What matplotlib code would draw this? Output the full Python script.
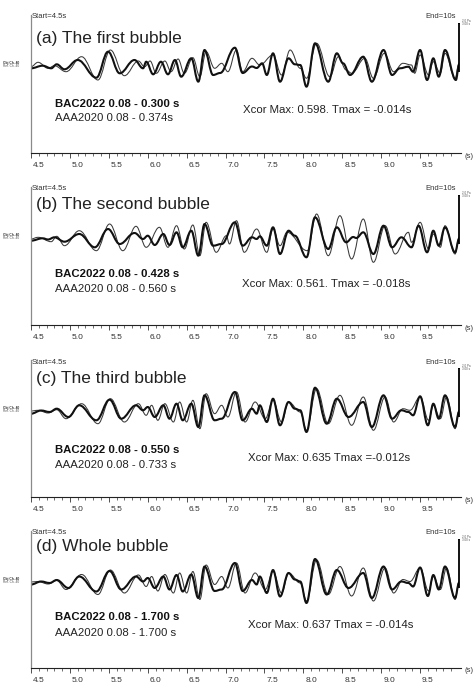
import matplotlib.pyplot as plt
from matplotlib.path import Path
from matplotlib.patches import PathPatch
import matplotlib.transforms as mtransforms
import numpy as np

plt.rcParams["font.family"] = ["Liberation Sans", "DejaVu Sans"]

W, H = 473, 688

titles = ["(a) The first bubble", "(b) The second bubble",
          "(c) The third bubble", "(d) Whole bubble"]
bac_labels = ["BAC2022 0.08 - 0.300 s", "BAC2022 0.08 - 0.428 s",
              "BAC2022 0.08 - 0.550 s", "BAC2022 0.08 - 1.700 s"]
aaa_labels = ["AAA2020 0.08 - 0.374s", "AAA2020 0.08 - 0.560 s",
              "AAA2020 0.08 - 0.733 s", "AAA2020 0.08 - 1.700 s"]
xcor_labels = ["Xcor Max: 0.598. Tmax = -0.014s", "Xcor Max: 0.561. Tmax = -0.018s",
               "Xcor Max: 0.635 Tmax =-0.012s", "Xcor Max: 0.637 Tmax = -0.014s"]
tick_major = [4.5, 5.0, 5.5, 6.0, 6.5, 7.0, 7.5, 8.0, 8.5, 9.0, 9.5]

# waveform turning points (time s, amplitude)
bac_a = [(4.50, -1.3), (4.65, 1.3), (4.76, -1.3), (4.83, 2.7), (4.93, -2.3), (5.10, 7),
         (5.34, -10.7), (5.49, 15.3), (5.64, -6.3), (5.83, 7), (5.94, -1.3), (5.98, 5.3),
         (6.07, -7.3), (6.17, 5.3), (6.26, -7.3), (6.35, 7), (6.43, -9.7), (6.56, 8.7),
         (6.65, -14.7), (6.73, 17), (6.84, -8), (6.93, -6), (7.12, 19.3), (7.22, -6),
         (7.34, 0.5), (7.40, -1), (7.47, 3.7), (7.53, -8), (7.61, 13.7), (7.70, -14.7),
         (7.81, 8.7), (7.89, 2.7), (7.96, 2), (8.04, -19.7), (8.15, 23.7), (8.32, -14.7),
         (8.43, 13.7), (8.51, 3.7), (8.60, -8), (8.77, 10.3), (8.88, -14.7), (9.03, 17),
         (9.14, -8), (9.24, -1.3), (9.35, 0.3), (9.41, -4.7), (9.50, 17), (9.59, -13),
         (9.67, 8.7), (9.74, -9.7), (9.82, 17), (9.96, -13), (10.0, 2)]
aaa_a = [(4.50, 0.3), (4.59, 4.7), (4.72, -1.3), (4.80, 1.3), (4.95, -4.7), (5.15, 10.3),
         (5.36, -13), (5.52, 17), (5.70, -8.7), (5.88, 6), (5.96, 0.3), (6.03, 6),
         (6.11, -6.3), (6.22, 6), (6.30, -4.7), (6.39, 8), (6.47, -6.3), (6.58, 9.3),
         (6.67, -9.7), (6.75, 15.3), (6.86, -1.3), (6.95, 3.7), (7.03, -4.7), (7.14, 17),
         (7.22, -4.7), (7.34, 8.7), (7.44, 2), (7.61, 12), (7.72, -8), (7.83, 17),
         (7.96, -1.3), (8.04, -11.3), (8.17, 23.7), (8.34, -9.7), (8.45, 10.3), (8.55, -3),
         (8.62, -6.3), (8.79, 8.7), (8.90, -11.3), (9.04, 13.7), (9.16, -4.7), (9.28, 3.7),
         (9.39, 2), (9.43, -6.3), (9.50, 12), (9.61, -8), (9.67, 5.3), (9.76, -6.3),
         (9.82, 13.7), (9.95, -11.3), (10.0, 3.7)]

bac_b = [(4.50, -1.7), (4.65, 0.7), (4.72, -0.5), (4.80, 1.7), (4.93, -2.7), (5.12, 5),
         (5.32, -8.3), (5.49, 10), (5.64, -5), (5.83, 6), (5.94, 0), (6.00, 3.3),
         (6.09, -6), (6.20, 5), (6.28, -6), (6.37, 6.7), (6.45, -8.3), (6.56, 8.3),
         (6.65, -16.7), (6.73, 15), (6.84, -6.7), (6.95, -5), (7.12, 16.7), (7.22, -6.7),
         (7.34, 1.7), (7.40, 0), (7.44, 2.7), (7.53, -6.7), (7.61, 11.7), (7.70, -15),
         (7.81, 8.3), (7.89, 3.3), (8.04, -18.3), (8.15, 21.7), (8.32, -10), (8.43, 11.7),
         (8.55, -3.3), (8.64, 2), (8.68, 1), (8.77, 6.7), (8.90, -15), (9.03, 13.3),
         (9.14, -8.3), (9.26, 1.7), (9.39, -8.3), (9.48, 13.3), (9.59, -13.3), (9.67, 8.3),
         (9.74, -6.7), (9.82, 11.7), (9.95, -13.3), (10.0, 0)]
aaa_b = [(4.50, 0), (4.59, 1.7), (4.76, -2.7), (4.83, 2.7), (4.93, -6.7), (5.12, 8.3),
         (5.34, -11.7), (5.51, 15), (5.68, -11.7), (5.85, 12.7), (5.98, -8.3), (6.15, 11.7),
         (6.26, -8.3), (6.37, 13.3), (6.47, -10), (6.58, 14), (6.67, -16.7), (6.75, 16.7),
         (6.88, -13.3), (7.01, 3.3), (7.05, -5), (7.14, 18.3), (7.24, -13.3), (7.40, 10),
         (7.53, -13.3), (7.61, 10), (7.70, -6.7), (7.79, 6.7), (8.05, -11.7), (8.17, 25),
         (8.32, -16.7), (8.47, 23.3), (8.62, -20), (8.77, 20), (8.90, -23.3), (9.05, 13.3),
         (9.18, -15), (9.35, 6.7), (9.39, -3.3), (9.50, 16.7), (9.61, -10), (9.67, 5),
         (9.76, -8.3), (9.82, 13.3), (9.95, -15), (10.0, 1.7)]

bac_c = [(4.50, -1.7), (4.63, 1.5), (4.74, 0), (4.83, 3.3), (4.98, -5), (5.12, 6.7),
         (5.34, -8.3), (5.51, 12.3), (5.66, -6.7), (5.85, 6.7), (5.94, 1.7), (6.00, 5),
         (6.09, -5), (6.20, 6.7), (6.28, -6.7), (6.37, 8.3), (6.45, -8.3), (6.56, 8.3),
         (6.65, -15), (6.73, 16.7), (6.86, -8.3), (6.95, -6.7), (7.12, 20), (7.22, -8.3),
         (7.34, 3.3), (7.40, -1.7), (7.44, 6.7), (7.53, -10), (7.61, 13.3), (7.70, -13.3),
         (7.81, 10), (7.89, 3.3), (7.96, 1.7), (8.04, -20), (8.15, 24.3), (8.30, -11.7),
         (8.43, 13.3), (8.58, -5), (8.77, 10), (8.88, -15), (9.03, 16.7), (9.14, -6.7),
         (9.26, 1.7), (9.35, 0), (9.41, -3.3), (9.50, 15.7), (9.60, -13.3), (9.67, 8.3),
         (9.74, -6.7), (9.82, 16.7), (9.95, -15), (10.0, 0)]
aaa_c = [(4.50, 1), (4.59, 1.7), (4.72, -1), (4.83, 2.3), (4.95, -6.7), (5.15, 8.3),
         (5.36, -11.7), (5.52, 13.3), (5.70, -10), (5.88, 8.3), (5.98, -3.3), (6.05, 6.7),
         (6.13, -8.3), (6.22, 8.3), (6.33, -10), (6.41, 10), (6.50, -10), (6.58, 11.7),
         (6.67, -16.7), (6.75, 18.3), (6.86, -1.7), (6.95, 6.7), (7.03, -5), (7.14, 20),
         (7.25, -10), (7.38, 10), (7.51, -6.7), (7.61, 11.7), (7.72, -10), (7.81, 10),
         (7.96, 0), (8.04, -18.3), (8.17, 23.3), (8.32, -11.7), (8.47, 16.7), (8.62, -13.3),
         (8.77, 15), (8.90, -18.3), (9.05, 15), (9.16, -10), (9.28, 3.3), (9.37, 1.7),
         (9.50, 15), (9.61, -8.3), (9.67, 6.7), (9.76, -6.7), (9.84, 15), (9.95, -16.7),
         (10.0, 1.7)]

bac_d = [(4.50, -1.5), (4.63, 1.5), (4.74, 0), (4.83, 3), (4.98, -5), (5.12, 6.5),
         (5.34, -8.5), (5.51, 12), (5.66, -6.5), (5.85, 6.5), (5.94, 1.5), (6.00, 5),
         (6.09, -5), (6.20, 6.5), (6.28, -6.5), (6.37, 8), (6.45, -8.5), (6.56, 8.5),
         (6.65, -15), (6.73, 16.5), (6.86, -8), (6.95, -6.5), (7.12, 20), (7.22, -8),
         (7.34, 3), (7.40, -1.5), (7.44, 6.5), (7.53, -10), (7.61, 13), (7.70, -13.5),
         (7.81, 10), (7.89, 3.5), (7.96, 1.5), (8.04, -20), (8.15, 24), (8.30, -11.5),
         (8.43, 13), (8.58, -5), (8.77, 10), (8.88, -15), (9.03, 16.5), (9.14, -6.5),
         (9.26, 1.5), (9.35, 0), (9.41, -3.5), (9.50, 15.5), (9.60, -13), (9.67, 8),
         (9.74, -6.5), (9.82, 16.5), (9.95, -15), (10.0, 0)]
aaa_d = [(4.50, 1), (4.59, 1.5), (4.72, -1), (4.83, 2.5), (4.95, -6.5), (5.15, 8.5),
         (5.36, -11.5), (5.52, 13), (5.70, -10), (5.88, 8), (5.98, -3.5), (6.05, 6.5),
         (6.13, -8), (6.22, 8.5), (6.33, -10), (6.41, 10), (6.50, -10), (6.58, 11.5),
         (6.67, -16.5), (6.75, 18), (6.86, -1.5), (6.95, 6.5), (7.03, -5), (7.14, 20),
         (7.25, -10), (7.38, 10), (7.51, -6.5), (7.61, 11.5), (7.72, -10), (7.81, 10),
         (7.96, 0), (8.04, -18), (8.17, 23), (8.32, -11.5), (8.47, 16.5), (8.62, -13),
         (8.77, 15), (8.90, -18), (9.05, 15), (9.16, -10), (9.28, 3.5), (9.37, 1.5),
         (9.50, 15), (9.61, -8), (9.67, 6.5), (9.76, -6.5), (9.84, 15), (9.95, -16.5),
         (10.0, 1.5)]

bac_traces = [bac_a, bac_b, bac_c, bac_d]
aaa_traces = [aaa_a, aaa_b, aaa_c, aaa_d]

# layout (pixel rows of each panel): top of frame, x axis line
panel_top = [15, 187, 360, 531]
panel_axis = [153, 325, 497, 668]
title_y = [39, 204, 378, 546]
bac_y = [104, 274, 450, 617]
aaa_y = [118, 289, 465, 633]
xcor_xy = [(243, 110), (242, 284), (248, 458), (248, 625)]


def wave_path(pts, k=0.38):
    # smooth curve through turning points, flat at every peak and trough
    verts = [pts[0]]
    codes = [Path.MOVETO]
    for (t0, a0), (t1, a1) in zip(pts[:-1], pts[1:]):
        d = (t1 - t0) * k
        verts += [(t0 + d, a0), (t1 - d, a1), (t1, a1)]
        codes += [Path.CURVE4] * 3
    return Path(verts, codes)


def ftext(x, y, s, **kw):
    fig.text(x / W, 1 - y / H, s, **kw)


fig = plt.figure(figsize=(W / 100, H / 100), dpi=100)

for i in range(4):
    top, bot = panel_top[i], panel_axis[i]
    ax = fig.add_axes([31 / W, 1 - bot / H, 428 / W, (bot - top) / H])
    base = top + 52
    ax.set_xlim(4.5, 10.0)
    ax.set_ylim(-(bot - base), base - top)

    ax.add_patch(PathPatch(wave_path(aaa_traces[i]), fill=False, lw=0.75,
                           ec="#3a3a3a", capstyle="round", joinstyle="round"))
    ax.add_patch(PathPatch(wave_path(bac_traces[i]), fill=False, lw=1.5,
                           ec="#111111", capstyle="round", joinstyle="round"))

    for s in ["top", "right"]:
        ax.spines[s].set_visible(False)
    ax.spines["left"].set_color("#8a8a8a")
    ax.spines["left"].set_linewidth(0.9)
    ax.spines["bottom"].set_color("#222222")
    ax.spines["bottom"].set_linewidth(0.8)
    ax.spines["bottom"].set_bounds(4.5, 10.02)
    ax.set_yticks([])
    ax.set_xticks(tick_major)
    ax.set_xticklabels(["%.1f" % v for v in tick_major])
    ax.set_xticks(np.arange(4.5, 10.0, 0.1), minor=True)
    ax.tick_params(axis="x", which="major", length=3.5, width=0.6, color="#333333",
                   labelsize=6, labelcolor="#333333", pad=3)
    ax.tick_params(axis="x", which="minor", length=2, width=0.5, color="#333333")
    off = mtransforms.ScaledTranslation(2 / 100, 0, fig.dpi_scale_trans)
    for lab in ax.get_xticklabels():
        lab.set_horizontalalignment("left")
        lab.set_transform(lab.get_transform() + off)

    # scale bar on the right edge
    ax.plot([10.0, 10.0], [base - top - 8, -5], color="black", lw=1.3,
            clip_on=False, solid_capstyle="butt")
    ax.plot([9.985, 10.0], [base - top - 8, base - top - 8], color="black", lw=0.6,
            clip_on=False)

    ftext(32, top + 2, "Start=4.5s", fontsize=5.5, color="#333333", va="center")
    ftext(456, top + 2, "End=10s", fontsize=5.5, color="#333333", va="center", ha="right")
    ftext(462, top + 6, "2.0 Pa", fontsize=2.2, color="#555555", va="center")
    ftext(462, top + 9, "3.00 s", fontsize=2.2, color="#555555", va="center")
    ftext(464, bot + 3, "(s)", fontsize=5.5, color="#333333", va="center")
    ftext(3, base - 4, "Obj Ch. 40", fontsize=2.3, color="#333333", va="center",
          fontweight="bold")
    ftext(3, base - 1, "Ref. Ch. 40", fontsize=2.3, color="#555555", va="center")

    ftext(36, title_y[i], titles[i], fontsize=12.5, color="#222222", va="center")
    ftext(55, bac_y[i], bac_labels[i], fontsize=8.2, fontweight="bold",
          color="#111111", va="center")
    ftext(55, aaa_y[i], aaa_labels[i], fontsize=8.2, color="#222222", va="center")
    ftext(xcor_xy[i][0], xcor_xy[i][1], xcor_labels[i], fontsize=8.2,
          color="#222222", va="center")

fig.savefig("out.png", dpi=100)
